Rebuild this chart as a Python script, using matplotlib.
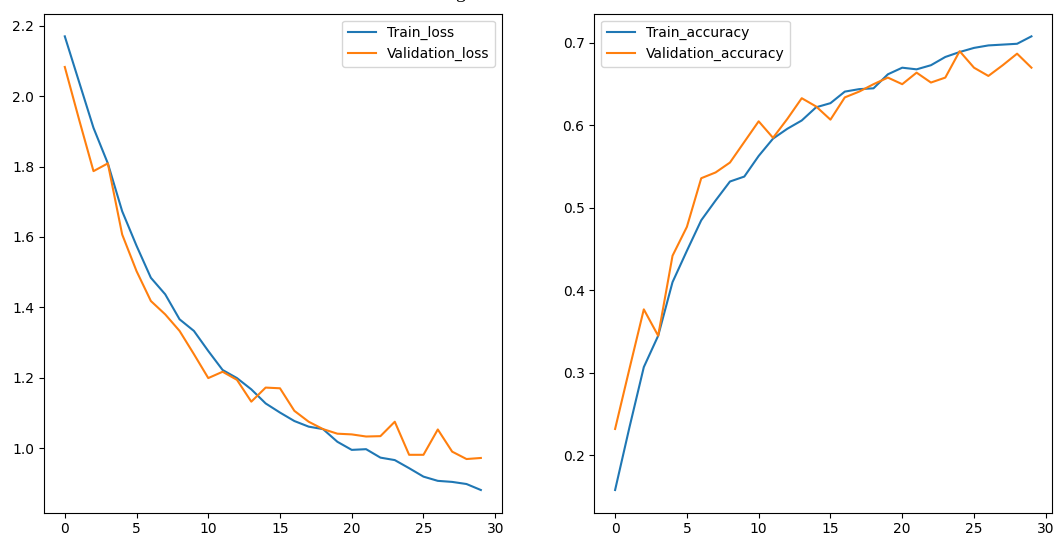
import numpy as np
import matplotlib.pyplot as plt

# epochs and values
epochs = np.arange(30)

train_loss = [2.170, 2.040, 1.910, 1.809, 1.673, 1.575, 1.484, 1.437, 1.366, 1.333,
              1.276, 1.222, 1.199, 1.167, 1.127, 1.101, 1.077, 1.061, 1.054, 1.018,
              0.995, 0.997, 0.973, 0.966, 0.943, 0.919, 0.907, 0.904, 0.898, 0.881]
val_loss = [2.083, 1.933, 1.787, 1.809, 1.607, 1.503, 1.418, 1.380, 1.333, 1.267,
            1.199, 1.217, 1.194, 1.132, 1.172, 1.170, 1.106, 1.075, 1.054, 1.041,
            1.039, 1.033, 1.034, 1.075, 0.981, 0.981, 1.053, 0.990, 0.969, 0.972]

train_acc = [0.158, 0.234, 0.307, 0.345, 0.410, 0.448, 0.485, 0.509, 0.532, 0.538,
             0.563, 0.584, 0.596, 0.606, 0.622, 0.627, 0.641, 0.644, 0.645, 0.662,
             0.670, 0.668, 0.673, 0.683, 0.689, 0.694, 0.697, 0.698, 0.699, 0.708]
val_acc = [0.232, 0.305, 0.377, 0.345, 0.442, 0.477, 0.536, 0.543, 0.555, 0.580,
           0.605, 0.585, 0.608, 0.633, 0.623, 0.607, 0.634, 0.641, 0.650, 0.658,
           0.650, 0.664, 0.652, 0.658, 0.690, 0.670, 0.660, 0.673, 0.687, 0.670]

fig = plt.figure(figsize=(10.55, 5.36), dpi=100)

# left panel: loss
ax1 = fig.add_axes([0.0417, 0.0435, 0.4338, 0.931])
ax1.plot(epochs, train_loss, label='Train_loss')
ax1.plot(epochs, val_loss, label='Validation_loss')
ax1.legend(loc='upper right')

# right panel: accuracy
ax2 = fig.add_axes([0.5633, 0.0435, 0.4341, 0.931])
ax2.plot(epochs, train_acc, label='Train_accuracy')
ax2.plot(epochs, val_acc, label='Validation_accuracy')
ax2.legend(loc='upper left')

# cut-off bit of the caption above the chart
fig.text(0.431, 1.003, 'g', family='Liberation Serif', fontsize=14, va='baseline')

fig.savefig('out.png', dpi=100)
